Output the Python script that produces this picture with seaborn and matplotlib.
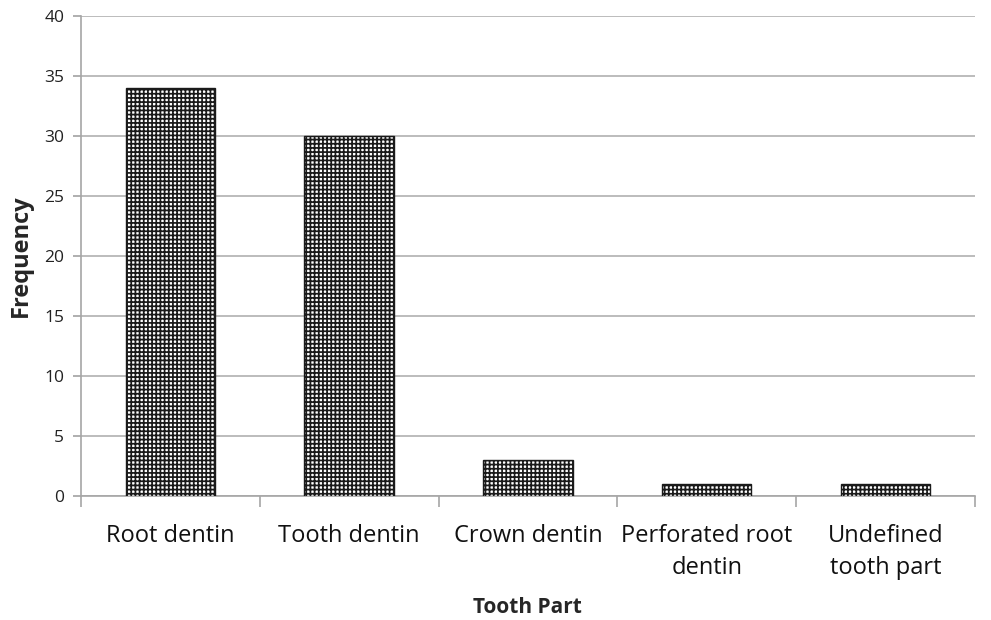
import numpy as np
import matplotlib.pyplot as plt
import seaborn as sns
import pandas as pd

# data
parts = ["Root dentin", "Tooth dentin", "Crown dentin", "Perforated root\ndentin", "Undefined\ntooth part"]
freq = [34, 30, 3, 1, 1]

df = pd.DataFrame({"part": parts, "freq": freq})

sns.set_theme(style="white")
plt.rcParams['font.family'] = ['Open Sans', 'DejaVu Sans']
plt.rcParams['hatch.linewidth'] = 1.25
plt.rcParams['hatch.color'] = '#1e1e1e'

fig = plt.figure(figsize=(9.91, 6.2), dpi=100)
ax = fig.add_axes([0.0817, 0.2, 0.902, 0.774])

sns.barplot(data=df, x="part", y="freq", color="white", width=0.5,
            edgecolor="#1a1a1a", linewidth=1.0, hatch="++++", ax=ax, zorder=3)

ax.set_ylim(0, 40)
ax.set_xlim(-0.5, len(parts) - 0.5)
ax.set_yticks(np.arange(0, 41, 5))
ax.yaxis.grid(True, color="#b0b0b0", linewidth=1.2, zorder=0)
ax.set_axisbelow(True)

for s in ["top", "right"]:
    ax.spines[s].set_visible(False)
for s in ["left", "bottom"]:
    ax.spines[s].set_color("#a6a6a6")
    ax.spines[s].set_linewidth(1.2)

ax.tick_params(axis="y", which="major", left=True, length=6, color="#a6a6a6",
               labelsize=12.5, labelcolor="#222222", pad=6)
ax.tick_params(axis="x", which="major", bottom=False, labelsize=17,
               labelcolor="#111111", pad=14)
for lab in ax.get_xticklabels():
    lab.set_linespacing(1.45)
ax.set_xticks(np.arange(-0.5, len(parts), 1.0), minor=True)
ax.tick_params(axis="x", which="minor", bottom=True, length=8, color="#a6a6a6", width=1.2)

ax.set_xlabel("Tooth Part", fontsize=15, fontweight="bold", labelpad=12)
ax.set_ylabel("Frequency", fontsize=17, fontweight="bold", labelpad=8)

plt.savefig("out.png", dpi=100)
